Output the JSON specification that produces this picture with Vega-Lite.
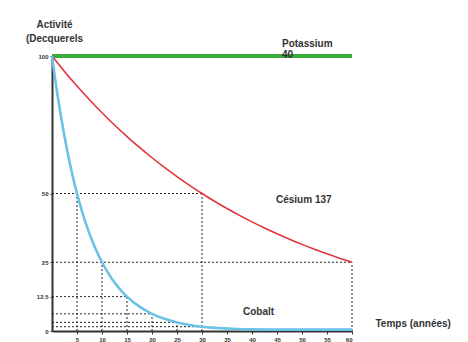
{
  "$schema": "https://vega.github.io/schema/vega-lite/v6.json",
  "width": 300,
  "height": 275,
  "autosize": "none",
  "padding": {"left": 52, "top": 56, "right": 116, "bottom": 11},
  "background": "white",
  "config": {"view": {"stroke": null}, "font": "Liberation Sans", "axis": {"labelOverlap": false, "labelSeparation": 0}},
  "datasets": {
    "curves": [
      {"s": "Potassium", "t": 0, "v": 100}, {"s": "Potassium", "t": 60, "v": 100},
      {"s": "Césium", "t": 0, "v": 100}, {"s": "Césium", "t": 2.5, "v": 94.39}, {"s": "Césium", "t": 5, "v": 89.09},
      {"s": "Césium", "t": 7.5, "v": 84.09}, {"s": "Césium", "t": 10, "v": 79.37}, {"s": "Césium", "t": 12.5, "v": 74.92},
      {"s": "Césium", "t": 15, "v": 70.71}, {"s": "Césium", "t": 17.5, "v": 66.74}, {"s": "Césium", "t": 20, "v": 63.0},
      {"s": "Césium", "t": 22.5, "v": 59.46}, {"s": "Césium", "t": 25, "v": 56.12}, {"s": "Césium", "t": 27.5, "v": 52.97},
      {"s": "Césium", "t": 30, "v": 50}, {"s": "Césium", "t": 32.5, "v": 47.19}, {"s": "Césium", "t": 35, "v": 44.54},
      {"s": "Césium", "t": 37.5, "v": 42.04}, {"s": "Césium", "t": 40, "v": 39.69}, {"s": "Césium", "t": 42.5, "v": 37.46},
      {"s": "Césium", "t": 45, "v": 35.36}, {"s": "Césium", "t": 47.5, "v": 33.37}, {"s": "Césium", "t": 50, "v": 31.5},
      {"s": "Césium", "t": 52.5, "v": 29.73}, {"s": "Césium", "t": 55, "v": 28.06}, {"s": "Césium", "t": 57.5, "v": 26.49},
      {"s": "Césium", "t": 60, "v": 25},
      {"s": "Cobalt", "t": 0, "v": 100}, {"s": "Cobalt", "t": 0.5, "v": 93.3}, {"s": "Cobalt", "t": 1, "v": 87.06},
      {"s": "Cobalt", "t": 1.5, "v": 81.23}, {"s": "Cobalt", "t": 2, "v": 75.79}, {"s": "Cobalt", "t": 2.5, "v": 70.71},
      {"s": "Cobalt", "t": 3, "v": 65.98}, {"s": "Cobalt", "t": 3.5, "v": 61.56}, {"s": "Cobalt", "t": 4, "v": 57.43},
      {"s": "Cobalt", "t": 4.5, "v": 53.59}, {"s": "Cobalt", "t": 5, "v": 50}, {"s": "Cobalt", "t": 6, "v": 43.53},
      {"s": "Cobalt", "t": 7, "v": 37.89}, {"s": "Cobalt", "t": 8, "v": 32.99}, {"s": "Cobalt", "t": 9, "v": 28.72},
      {"s": "Cobalt", "t": 10, "v": 25}, {"s": "Cobalt", "t": 11, "v": 21.76}, {"s": "Cobalt", "t": 12, "v": 18.95},
      {"s": "Cobalt", "t": 13, "v": 16.49}, {"s": "Cobalt", "t": 14, "v": 14.36}, {"s": "Cobalt", "t": 15, "v": 12.5},
      {"s": "Cobalt", "t": 17.5, "v": 8.84}, {"s": "Cobalt", "t": 20, "v": 6.25}, {"s": "Cobalt", "t": 22.5, "v": 4.42},
      {"s": "Cobalt", "t": 25, "v": 3.13}, {"s": "Cobalt", "t": 27.5, "v": 2.21}, {"s": "Cobalt", "t": 30, "v": 1.56},
      {"s": "Cobalt", "t": 35, "v": 0.9}, {"s": "Cobalt", "t": 40, "v": 0.6}, {"s": "Cobalt", "t": 45, "v": 0.5},
      {"s": "Cobalt", "t": 50, "v": 0.5}, {"s": "Cobalt", "t": 55, "v": 0.5}, {"s": "Cobalt", "t": 60, "v": 0.5}
    ],
    "guides": [
      {"t": 0, "v": 50, "t2": 30, "v2": 50},
      {"t": 0, "v": 25, "t2": 60, "v2": 25},
      {"t": 0, "v": 12.5, "t2": 15, "v2": 12.5},
      {"t": 0, "v": 6.25, "t2": 20, "v2": 6.25},
      {"t": 0, "v": 3.13, "t2": 25, "v2": 3.13},
      {"t": 0, "v": 1.56, "t2": 30, "v2": 1.56},
      {"t": 5, "v": 0, "t2": 5, "v2": 50},
      {"t": 10, "v": 0, "t2": 10, "v2": 25},
      {"t": 15, "v": 0, "t2": 15, "v2": 12.5},
      {"t": 20, "v": 0, "t2": 20, "v2": 6.25},
      {"t": 25, "v": 0, "t2": 25, "v2": 3.13},
      {"t": 30, "v": 0, "t2": 30, "v2": 50},
      {"t": 60, "v": 0, "t2": 60, "v2": 25}
    ],
    "labels": [
      {"t": 46, "v": 104.5, "txt": "Potassium"},
      {"t": 46, "v": 100.5, "txt": "40"},
      {"t": 44.8, "v": 47.5, "txt": "Césium 137"},
      {"t": 38.2, "v": 7, "txt": "Cobalt"}
    ]
  },
  "encoding": {
    "x": {"field": "t", "type": "quantitative", "scale": {"domain": [0, 60], "nice": false}, "axis": {
      "values": [5, 10, 15, 20, 25, 30, 35, 40, 45, 50, 55, 60],
      "labelOverlap": false, "labelSeparation": 0,
      "labelExpr": "'' + datum.value",
      "title": "Temps (années)", "titleX": 323, "titleY": -8, "titleAlign": "left", "titleBaseline": "middle",
      "titleFontSize": 10, "titleFontWeight": "bold", "titleColor": "#333",
      "labelFontSize": 6, "labelColor": "#333", "labelPadding": 2, "labelFontWeight": "bold",
      "tickSize": 3, "tickColor": "#333", "domainColor": "#333", "domainWidth": 2, "grid": false
    }},
    "y": {"field": "v", "type": "quantitative", "scale": {"domain": [0, 100], "nice": false}, "axis": {
      "values": [0, 12.5, 25, 50, 100],
      "labelExpr": "'' + datum.value",
      "labelOverlap": false,
      "title": ["Activité", "(Decquerels"], "titleAngle": 0, "titleX": 2, "titleY": -29, "titleAlign": "center",
      "titleBaseline": "alphabetic", "titleLineHeight": 14,
      "titleFontSize": 10, "titleFontWeight": "bold", "titleColor": "#333",
      "labelFontSize": 6, "labelColor": "#333", "labelPadding": 2, "labelFontWeight": "bold",
      "tickSize": 2, "tickColor": "#333", "domainColor": "#333", "domainWidth": 2, "grid": false
    }}
  },
  "layer": [
    {
      "data": {"name": "guides"},
      "mark": {"type": "rule", "color": "#222", "strokeWidth": 1, "strokeDash": [2, 2]},
      "encoding": {"x2": {"field": "t2"}, "y2": {"field": "v2"}}
    },
    {
      "data": {"name": "curves"},
      "transform": [{"filter": "datum.s === 'Potassium'"}],
      "mark": {"type": "line", "color": "#3aaa3a", "strokeWidth": 4}
    },
    {
      "data": {"name": "curves"},
      "transform": [{"filter": "datum.s === 'Césium'"}],
      "mark": {"type": "line", "color": "#e2343a", "strokeWidth": 1.6, "interpolate": "monotone"}
    },
    {
      "data": {"name": "curves"},
      "transform": [{"filter": "datum.s === 'Cobalt'"}],
      "mark": {"type": "line", "color": "#6cc2e6", "strokeWidth": 2.6, "interpolate": "monotone"}
    },
    {
      "data": {"name": "labels"},
      "mark": {"type": "text", "align": "left", "baseline": "middle", "fontSize": 10, "fontWeight": "bold", "color": "#333"},
      "encoding": {"text": {"field": "txt"}}
    }
  ]
}
